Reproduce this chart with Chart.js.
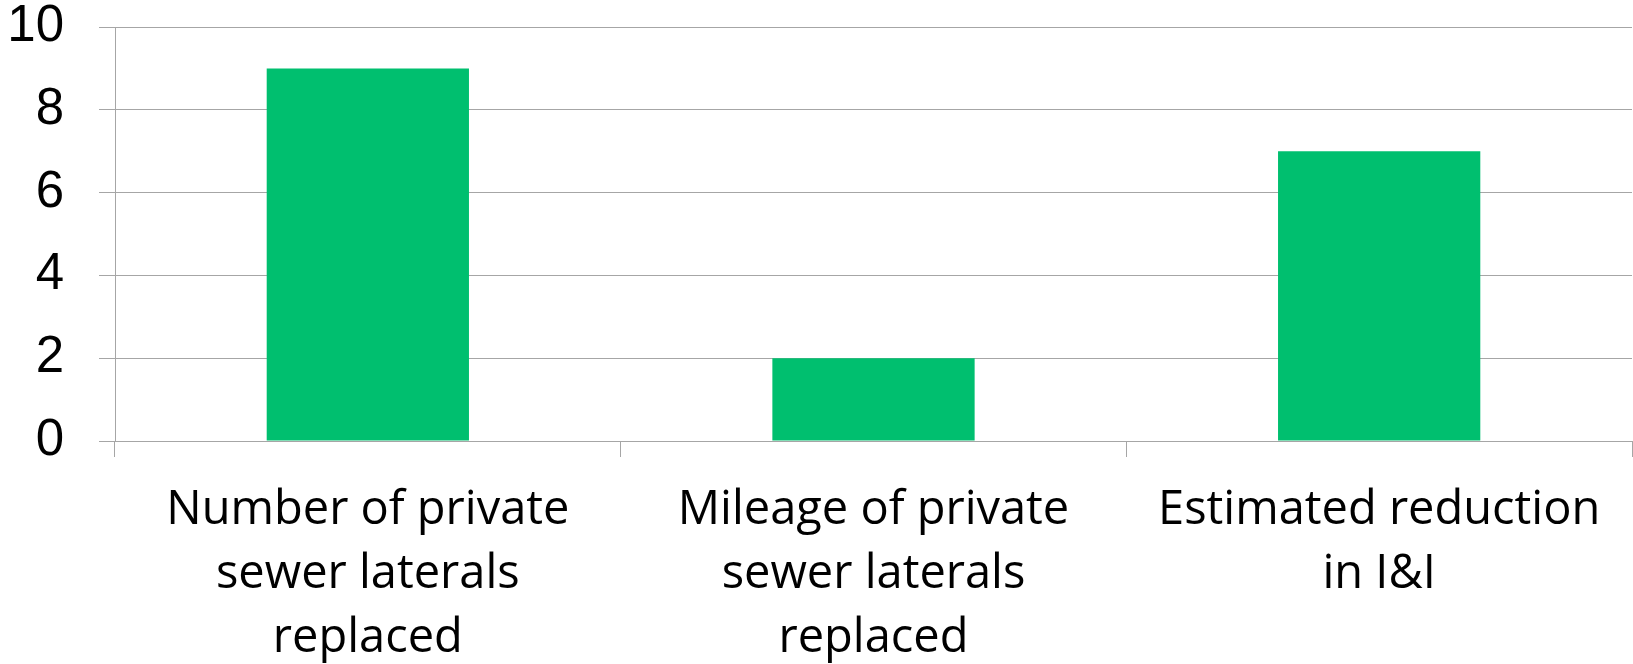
<!DOCTYPE html>
<html>
<head>
<meta charset="utf-8">
<script src="https://cdn.jsdelivr.net/npm/chart.js@4/dist/chart.umd.min.js"></script>
<style>
  html, body { margin: 0; padding: 0; background: #fff; }
  #wrap { width: 1633px; height: 664px; }
</style>
</head>
<body>
<div id="wrap"><canvas id="myChart" width="1633" height="664"></canvas></div>
<script>
const categories = [
    ['Number of private', 'sewer laterals', 'replaced'],
    ['Mileage of private', 'sewer laterals', 'replaced'],
    ['Estimated reduction', 'in I&I']
];
const values = [9, 2, 7];
const yTicks = [0, 2, 4, 6, 8, 10];

const gridColor = '#a6a6a6';

var ctx = document.getElementById('myChart').getContext('2d');

var myChart = new Chart(ctx, { //eslint-disable-line
    type: 'bar',
    data: {
        labels: categories,
        datasets: [
            {
                data: values,
                backgroundColor: '#00bf6f',
                borderWidth: 0,
                barPercentage: 0.4,
                categoryPercentage: 1
            }
        ]
    },
    options: {
        responsive: false,
        animation: false,
        layout: {
            padding: { top: 27, right: 1, left: 0, bottom: 0 }
        },
        plugins: {
            legend: { display: false },
            tooltip: { enabled: false }
        },
        scales: {
            x: {
                offset: true,
                grid: {
                    offset: true,
                    drawOnChartArea: false,
                    drawTicks: true,
                    tickLength: 16,
                    color: gridColor
                },
                border: { display: true, color: gridColor },
                ticks: {
                    color: '#000',
                    padding: 22,
                    maxRotation: 0,
                    autoSkip: false,
                    font: { family: 'Open Sans', size: 47, lineHeight: 1.36 }
                },
                afterFit: (scale) => { scale.height = 223; }
            },
            y: {
                min: 0,
                max: 10,
                afterBuildTicks: (scale) => {
                    scale.ticks = yTicks.map(v => ({ value: v }));
                },
                grid: {
                    color: gridColor,
                    drawTicks: true,
                    tickLength: 16
                },
                border: { display: true, color: gridColor },
                ticks: {
                    color: '#000',
                    padding: 35,
                    font: { family: 'Liberation Sans', size: 51 }
                },
                afterFit: (scale) => {
                    // fixed gutter, and let the top label overhang the padding
                    scale.width = 115;
                    scale.paddingTop = 0;
                    scale.paddingBottom = 0;
                }
            }
        }
    }
});
</script>
</body>
</html>
